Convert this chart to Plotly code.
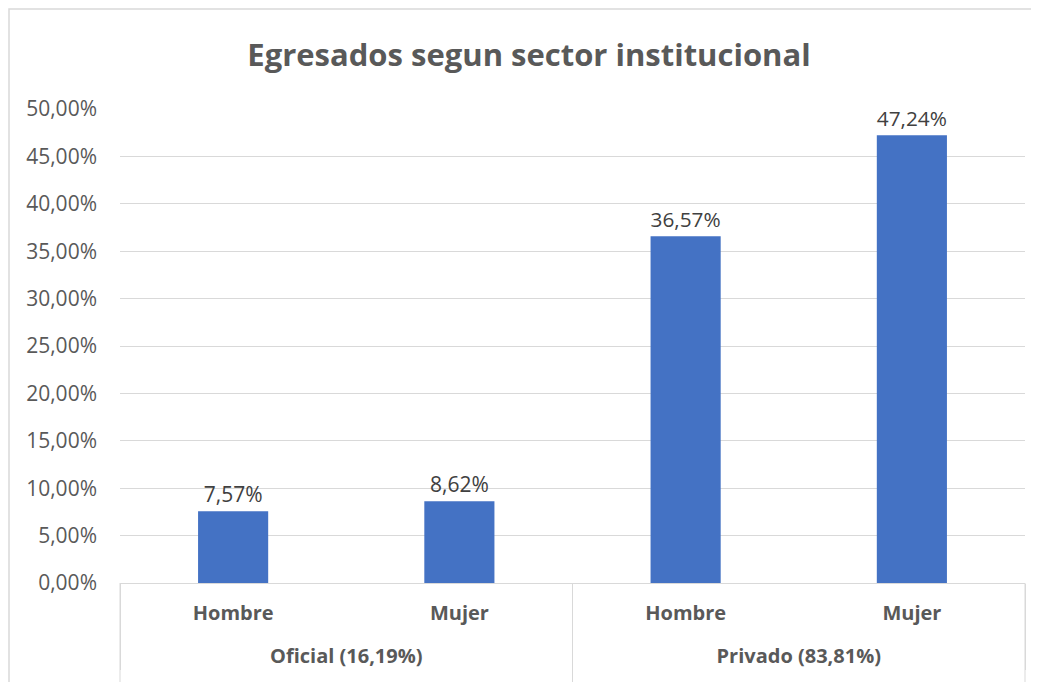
import plotly.graph_objects as go

sectors = ["Oficial (16,19%)", "Oficial (16,19%)", "Privado (83,81%)", "Privado (83,81%)"]
genders = ["Hombre", "Mujer", "Hombre", "Mujer"]
values = [0.0757, 0.0862, 0.3657, 0.4724]

title_text = "Egresados segun sector institucional"
FONT = "Open Sans"

# page body has an 8px margin, so figure coordinates are shifted by 8px
W, H = 1031, 674
L, T, R, B = 112, 101, 14, 99
PW, PH = W - L - R, H - T - B

fig = go.Figure()
fig.add_trace(go.Bar(
    x=[["<br>" + s for s in sectors], genders],
    y=values,
    marker=dict(color="#4472C4", line=dict(width=0)),
    texttemplate="%{y:.2%}",
    textposition="outside",
    textfont=dict(family=FONT, size=21, color="#404040"),
    cliponaxis=False,
))

grid = "#d9d9d9"
fig.update_layout(
    width=W, height=H,
    margin=dict(l=L, r=R, t=T, b=B),
    paper_bgcolor="white", plot_bgcolor="white",
    separators=",.",
    bargap=0.69,
    showlegend=False,
    title=dict(text=f"<b>{title_text}</b>", x=521 / W, xref="container", xanchor="center",
               y=1 - 47 / H, yref="container", yanchor="middle",
               font=dict(family=FONT, size=31, color="#595959")),
    xaxis=dict(type="multicategory", showgrid=False, showline=True, linecolor=grid, linewidth=1,
               ticks="", ticklabelstandoff=12,
               tickfont=dict(family=FONT, size=20, color="#595959", weight="bold"),
               showdividers=True, dividercolor=grid, dividerwidth=1),
    yaxis=dict(range=[0, 0.5], dtick=0.05, tickformat=".2%", showgrid=True, gridcolor=grid, gridwidth=1,
               zeroline=False, showline=False, ticks="", ticklabelstandoff=22,
               tickfont=dict(family=FONT, size=21, color="#595959")),
)

shapes = [dict(type="rect", xref="paper", yref="paper",
               x0=(1 - L) / PW, x1=(1025 - L) / PW,
               y0=-(H + 40 - T - PH) / PH, y1=(T + PH - 1) / PH,
               line=dict(color=grid, width=1.5), layer="below")]
for xp in (0, 0.5, 1):
    shapes.append(dict(type="line", xref="paper", yref="paper", x0=xp, x1=xp,
                       y0=0, y1=-(B + 20) / PH, line=dict(color=grid, width=1)))
fig.update_layout(shapes=shapes)

fig.write_html("out.html")
